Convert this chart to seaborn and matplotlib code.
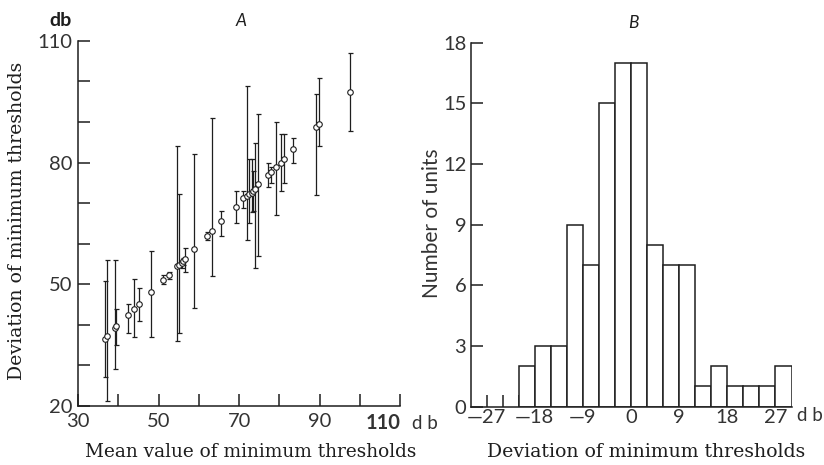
import numpy as np
import pandas as pd
import matplotlib
matplotlib.use("Agg")
import matplotlib.pyplot as plt
import seaborn as sns

# Panel A: per-unit mean threshold vs. threshold, with range bars (db)
mean_db = [36.6, 37.2, 39.1, 39.5, 42.3, 44.0, 45.1, 48.2, 51.1, 52.5,
           54.5, 55.1, 55.7, 56.1, 56.6, 58.8, 62.1, 63.2, 65.6, 69.2,
           71.0, 72.0, 72.5, 73.1, 73.4, 73.9, 74.8, 77.1, 77.8, 79.2,
           80.3, 81.2, 83.5, 89.1, 89.9, 97.6]
thresh_db = [36.6, 37.2, 39.1, 39.6, 42.3, 44.0, 45.1, 48.0, 51.0, 52.3,
             54.4, 54.7, 55.3, 55.7, 56.2, 58.8, 62.0, 63.2, 65.5, 69.1,
             71.2, 71.7, 72.2, 72.5, 73.0, 73.5, 74.6, 76.9, 77.7, 78.9,
             79.8, 81.0, 83.3, 88.8, 89.4, 97.3]
range_low = [27.2, 21.2, 29.0, 35.1, 38.1, 37.0, 40.9, 37.0, 50.0, 51.3,
             36.0, 38.0, 54.0, 54.8, 53.0, 44.2, 61.0, 52.0, 62.0, 65.1,
             68.9, 61.0, 65.1, 67.8, 68.1, 54.0, 56.9, 74.0, 75.0, 67.0,
             73.0, 75.0, 79.9, 72.0, 84.0, 87.8]
range_high = [50.7, 56.1, 56.1, 44.0, 45.1, 51.2, 49.2, 58.2, 52.2, 53.0,
              84.0, 72.3, 56.0, 56.6, 59.0, 82.0, 63.0, 91.1, 68.1, 73.0,
              73.0, 98.8, 81.0, 81.0, 78.0, 84.9, 91.9, 79.9, 78.9, 90.0,
              87.0, 87.0, 86.1, 96.9, 100.9, 106.9]

# Panel B: histogram of threshold deviations, 3-db bins
bin_edges = [-21, -18, -15, -12, -9, -6, -3, 0, 3, 6, 9, 12, 15, 18, 21, 24, 27, 30]
unit_counts = [2, 3, 3, 9, 7, 15, 17, 17, 8, 7, 7, 1, 2, 1, 1, 1, 2]

sns.set_theme(style="ticks")
plt.rcParams["font.family"] = ["Lato", "DejaVu Sans"]

ink = "#1e1e1e"
tick_ink = "#333333"
fig = plt.figure(figsize=(8.24, 4.65), dpi=100)
ax_a = fig.add_axes([0.0947, 0.127, 0.391, 0.785])
ax_b = fig.add_axes([0.571, 0.1254, 0.3896, 0.783])

# ---- Panel A ----
df_a = pd.DataFrame({"mean": mean_db, "thr": thresh_db,
                     "lo": range_low, "hi": range_high})
yerr = np.vstack([df_a["thr"] - df_a["lo"], df_a["hi"] - df_a["thr"]])
ax_a.errorbar(df_a["mean"], df_a["thr"], yerr=yerr, fmt="none",
              ecolor=ink, elinewidth=0.9, capsize=1.8, capthick=0.9, zorder=2)
sns.scatterplot(data=df_a, x="mean", y="thr", ax=ax_a, marker="o", s=16,
                facecolor="white", edgecolor=ink, linewidth=0.8, zorder=3)

ax_a.set_xlim(30, 110)
ax_a.set_ylim(20, 110)
ax_a.set_xticks(np.arange(30, 111, 10))
ax_a.set_xticklabels(["30", "", "50", "", "70", "", "90", "", "110"])
ax_a.set_yticks(np.arange(20, 111, 10))
ax_a.set_yticklabels(["20", "", "", "50", "", "", "80", "", "", "110"])
last = ax_a.get_xticklabels()[-1]
last.set_ha("right")
last.set_fontweight("bold")
ax_a.tick_params(axis="both", direction="in", length=8.5, width=1.1,
                 color=ink, labelcolor=tick_ink, labelsize=14.5)
ax_a.tick_params(axis="x", pad=5)
ax_a.tick_params(axis="y", pad=4)
for s in ("top", "right"):
    ax_a.spines[s].set_visible(False)
for s in ("left", "bottom"):
    ax_a.spines[s].set_color(ink)
    ax_a.spines[s].set_linewidth(1.1)

ax_a.set_xlabel("Mean value of minimum thresholds", family="DejaVu Serif",
                fontsize=13.3, color=ink)
ax_a.xaxis.set_label_coords(0.537, -0.126)
ax_a.xaxis.label.set_va("center")
ax_a.set_ylabel("Deviation of minimum thresholds", family="DejaVu Serif",
                fontsize=13.6, color=ink)
ax_a.yaxis.set_label_coords(-0.189, 0.507)
ax_a.yaxis.label.set_va("center")

fig.text(61 / 824, 1 - 21 / 465, "db", fontsize=14, fontweight="bold",
         color=ink, ha="center", va="center")
fig.text(241 / 824, 1 - 21 / 465, "A", fontsize=12.5, style="italic",
         color=ink, ha="center", va="center")
fig.text(425 / 824, 1 - 423 / 465, "d b", fontsize=13.5, color=tick_ink,
         ha="center", va="center")

# ---- Panel B ----
centers = [(a + b) / 2 for a, b in zip(bin_edges[:-1], bin_edges[1:])]
sns.histplot(x=centers, weights=unit_counts, bins=bin_edges, ax=ax_b,
             color="white", edgecolor=ink, linewidth=1.1, alpha=1)
ax_b.set_xlim(-30, 30)
ax_b.set_ylim(0, 18)
ax_b.set_xticks(np.arange(-27, 28, 3))


def dev_label(v):
    if v % 9:
        return ""
    return f"\u2014{abs(v)}" if v < 0 else str(v)


ax_b.set_xticklabels([dev_label(v) for v in range(-27, 28, 3)])
ax_b.set_yticks(np.arange(0, 19, 3))
ax_b.tick_params(axis="both", direction="in", length=8.5, width=1.1,
                 color=ink, labelcolor=tick_ink, labelsize=14.5)
ax_b.tick_params(axis="x", pad=1.5)
ax_b.tick_params(axis="y", pad=3)
for s in ("top", "right"):
    ax_b.spines[s].set_visible(False)
for s in ("left", "bottom"):
    ax_b.spines[s].set_color(ink)
    ax_b.spines[s].set_linewidth(1.1)

ax_b.set_xlabel("Deviation of minimum thresholds", family="DejaVu Serif",
                fontsize=13.6, color=ink)
ax_b.xaxis.set_label_coords(0.546, -0.124)
ax_b.xaxis.label.set_va("center")
ax_b.set_ylabel("Number of units", fontsize=15, color=tick_ink)
ax_b.yaxis.set_label_coords(-0.12, 0.505)
ax_b.yaxis.label.set_va("center")

fig.text(633 / 824, 1 - 23 / 465, "B", fontsize=12.5, style="italic",
         color=ink, ha="center", va="center")
fig.text(810 / 824, 1 - 415 / 465, "d b", fontsize=13.5, color=tick_ink,
         ha="center", va="center")

fig.savefig("out.png", dpi=100, facecolor="white")
